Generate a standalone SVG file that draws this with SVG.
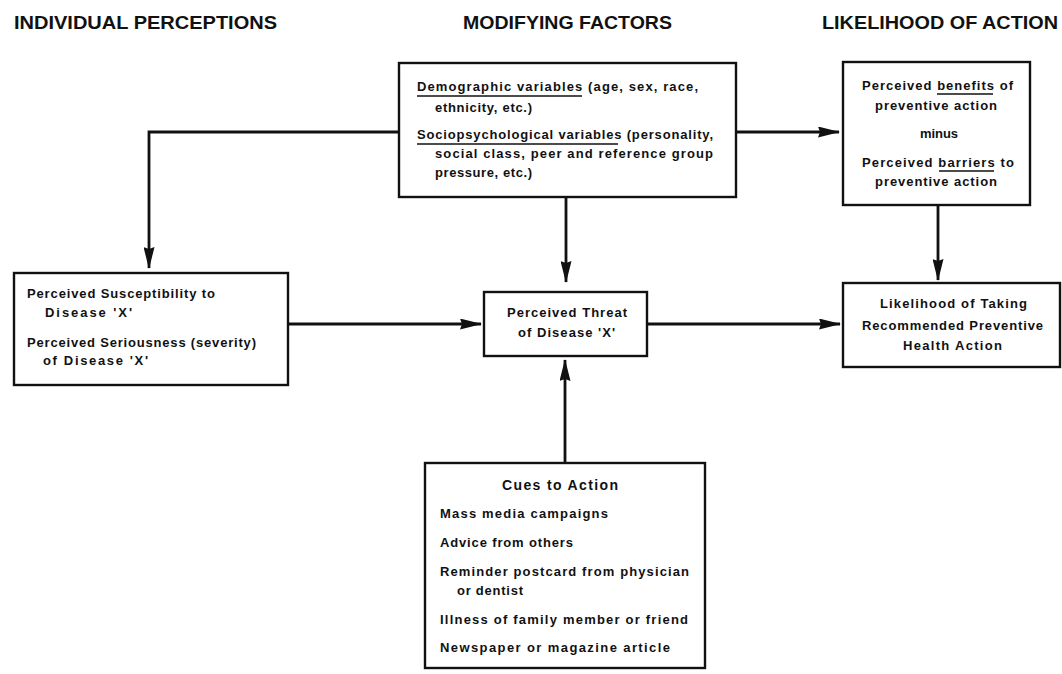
<svg xmlns="http://www.w3.org/2000/svg" width="1062" height="674" viewBox="0 0 1062 674">
  <defs>
    <marker id="arrow" viewBox="0 0 22 11" refX="21" refY="5.5" markerWidth="22" markerHeight="11" markerUnits="userSpaceOnUse" orient="auto">
      <path d="M0,0 L22,5.5 L0,11 L2,5.5 Z" fill="#111"/>
    </marker>
    <style>
      .box { fill: #fff; stroke: #111; stroke-width: 2.4; }
      .hdr { font-family: "Liberation Sans", Arial, sans-serif; font-weight: bold; font-size: 18px; fill: #111; }
      .t { font-family: "Liberation Sans", Arial, sans-serif; font-weight: bold; font-size: 13px; fill: #111; }
      .ttl { font-size: 14px; }
      .ul { stroke: #111; stroke-width: 1.4; }
      .conn { fill: none; stroke: #111; stroke-width: 2.8; }
    </style>
  </defs>
  <rect width="1062" height="674" fill="#fff"/>

  <!-- column headings -->
  <g id="headings">
    <text class="hdr" x="14" y="29" textLength="263" lengthAdjust="spacingAndGlyphs">INDIVIDUAL PERCEPTIONS</text>
    <text class="hdr" x="463" y="29" textLength="209" lengthAdjust="spacingAndGlyphs">MODIFYING FACTORS</text>
    <text class="hdr" x="822" y="29" textLength="236" lengthAdjust="spacingAndGlyphs">LIKELIHOOD OF ACTION</text>
  </g>

  <!-- connectors -->
  <g id="connectors">
    <path class="conn" d="M399,132 H149 V268" marker-end="url(#arrow)"/>
    <path class="conn" d="M736,132 H839" marker-end="url(#arrow)"/>
    <path class="conn" d="M566,197 V282" marker-end="url(#arrow)"/>
    <path class="conn" d="M938,205 V280" marker-end="url(#arrow)"/>
    <path class="conn" d="M288,324 H481" marker-end="url(#arrow)"/>
    <path class="conn" d="M647,324 H840" marker-end="url(#arrow)"/>
    <path class="conn" d="M565,463 V360" marker-end="url(#arrow)"/>
  </g>

  <g id="modifying-factors">
    <rect class="box" x="399" y="63" width="337" height="134"/>
    <text class="t" x="417" y="91" textLength="281">Demographic variables (age, sex, race,</text>
    <line class="ul" x1="417" y1="96" x2="582" y2="96"/>
    <text class="t" x="435" y="112" textLength="97">ethnicity, etc.)</text>
    <text class="t" x="417" y="139" textLength="296">Sociopsychological variables (personality,</text>
    <line class="ul" x1="417" y1="144" x2="618" y2="144"/>
    <text class="t" x="435" y="158" textLength="278">social class, peer and reference group</text>
    <text class="t" x="435" y="177" textLength="97">pressure, etc.)</text>
  </g>

  <g id="benefits-barriers">
    <rect class="box" x="843" y="62" width="187" height="143"/>
    <text class="t" x="862" y="90" textLength="151">Perceived benefits of</text>
    <line class="ul" x1="937" y1="94" x2="993" y2="94"/>
    <text class="t" x="875" y="110" textLength="122">preventive action</text>
    <text class="t" x="920" y="138" textLength="38">minus</text>
    <text class="t" x="862" y="167" textLength="152">Perceived barriers to</text>
    <line class="ul" x1="939" y1="171" x2="994" y2="171"/>
    <text class="t" x="875" y="186" textLength="122">preventive action</text>
  </g>

  <g id="individual-perceptions">
    <rect class="box" x="14" y="273" width="274" height="112"/>
    <text class="t" x="27" y="298" textLength="188">Perceived Susceptibility to</text>
    <text class="t" x="45" y="317" textLength="87">Disease 'X'</text>
    <text class="t" x="27" y="347" textLength="229">Perceived Seriousness (severity)</text>
    <text class="t" x="43" y="365" textLength="105">of Disease 'X'</text>
  </g>

  <g id="perceived-threat">
    <rect class="box" x="484" y="292" width="163" height="64"/>
    <text class="t" x="507" y="317" textLength="120">Perceived Threat</text>
    <text class="t" x="518" y="337" textLength="97">of Disease 'X'</text>
  </g>

  <g id="likelihood">
    <rect class="box" x="843" y="283" width="217" height="84"/>
    <text class="t" x="880" y="308" textLength="147">Likelihood of Taking</text>
    <text class="t" x="862" y="330" textLength="181">Recommended Preventive</text>
    <text class="t" x="903" y="350" textLength="99">Health Action</text>
  </g>

  <g id="cues-to-action">
    <rect class="box" x="425" y="463" width="280" height="205"/>
    <text class="t ttl" x="502" y="490" textLength="116">Cues to Action</text>
    <text class="t" x="440" y="518" textLength="168">Mass media campaigns</text>
    <text class="t" x="440" y="547" textLength="133">Advice from others</text>
    <text class="t" x="440" y="576" textLength="249">Reminder postcard from physician</text>
    <text class="t" x="457" y="595" textLength="66">or dentist</text>
    <text class="t" x="440" y="624" textLength="248">Illness of family member or friend</text>
    <text class="t" x="440" y="652" textLength="230">Newspaper or magazine article</text>
  </g>
</svg>
